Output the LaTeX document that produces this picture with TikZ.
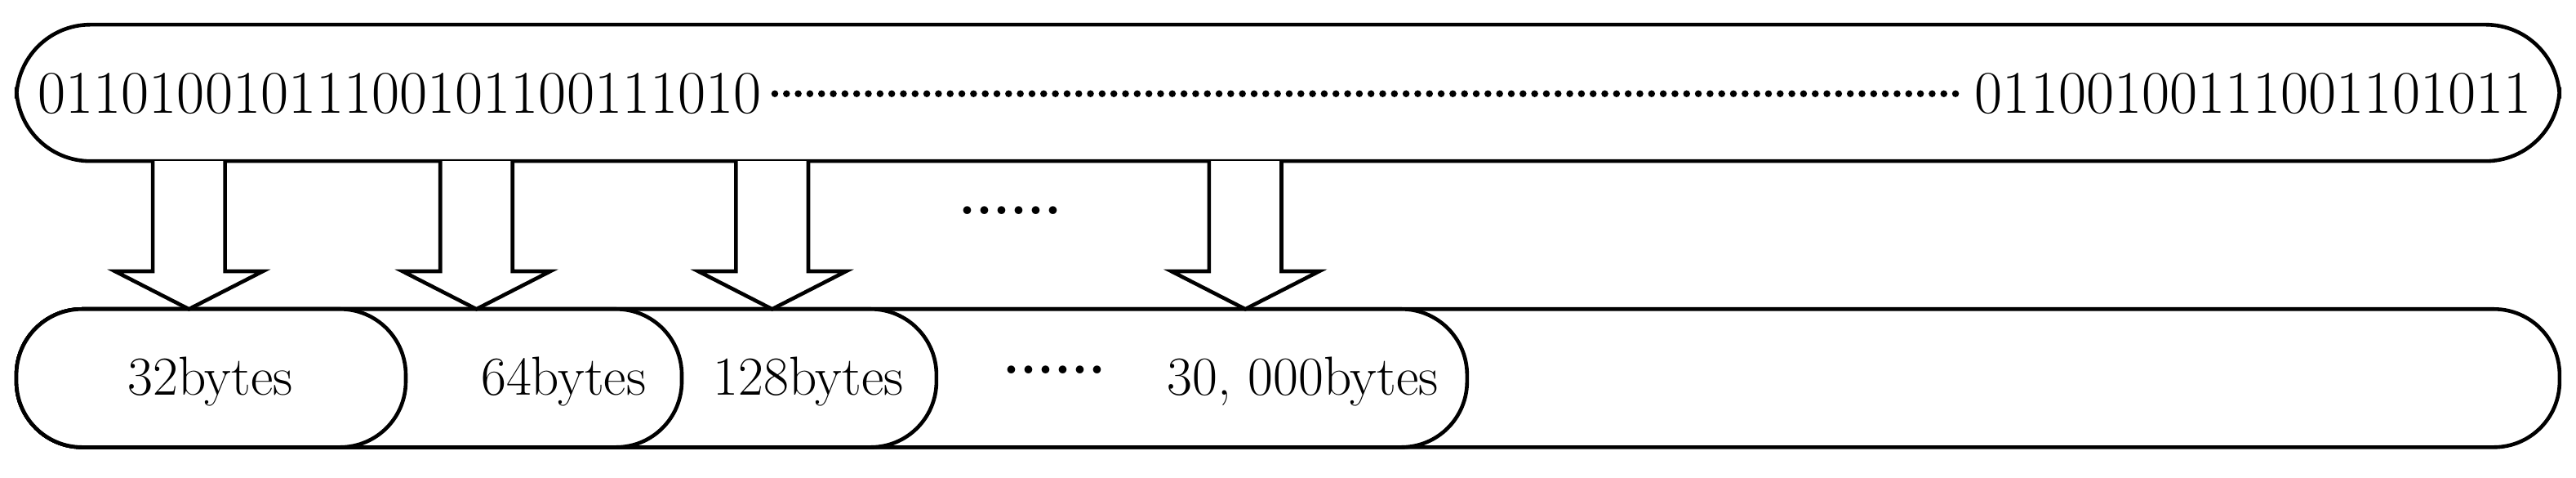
\documentclass[tikz,border=0pt]{standalone}
\usepackage{tikz}
\begin{document}
\begin{tikzpicture}[x=0.02cm, y=-0.02cm, line width=1.3pt,
    every node/.style={font=\fontsize{19}{22}\selectfont, inner sep=0pt}]

        \useasboundingbox (0,0) rectangle (1568,290.7);

        % Bit stream on top
        \draw[rounded corners=0.9cm] (10,15) rectangle (1558,98);
        \node[anchor=west, font=\fontsize{21}{24}\selectfont] (bitsa) at (22,57) {01101001011100101100111010};
        \node[anchor=east, font=\fontsize{21}{24}\selectfont] (bitsb) at (1542,57) {01100100111001101011};
        \draw[line width=2.4pt, line cap=round, dash pattern=on 0pt off 4.05pt]
            ([xshift=4pt]bitsa.east) -- ([xshift=-3pt]bitsb.west);

        % Blocks below, drawn right to left so each covers the next
        \draw[rounded corners=0.8cm] (10,188) rectangle (1558,272);
        \draw[rounded corners=0.8cm, fill=white] (10,188) rectangle (893,272);
        \draw[rounded corners=0.8cm, fill=white] (10,188) rectangle (570,272);
        \draw[rounded corners=0.8cm, fill=white] (10,188) rectangle (415,272);
        \draw[rounded corners=0.8cm, fill=white] (10,188) rectangle (247,272);

        \node (blka) at (128,232) {32bytes};
        \node (blkb) at (343,232) {64bytes};
        \node (blkc) at (492,232) {128bytes};
        \node (blkd) at (642,225) {\textbf{......}};
        \node (blke) at (793,232) {30, 000bytes};
        \node (dots) at (615,128) {\textbf{......}};

        % Block arrows
        \foreach \c in {115,290,470,758}
            \draw[fill=white, line join=miter] (\c-22,98) -- (\c-22,165) -- (\c-45,165)
                -- (\c,188) -- (\c+45,165) -- (\c+22,165) -- (\c+22,98);

\end{tikzpicture}
\end{document}
